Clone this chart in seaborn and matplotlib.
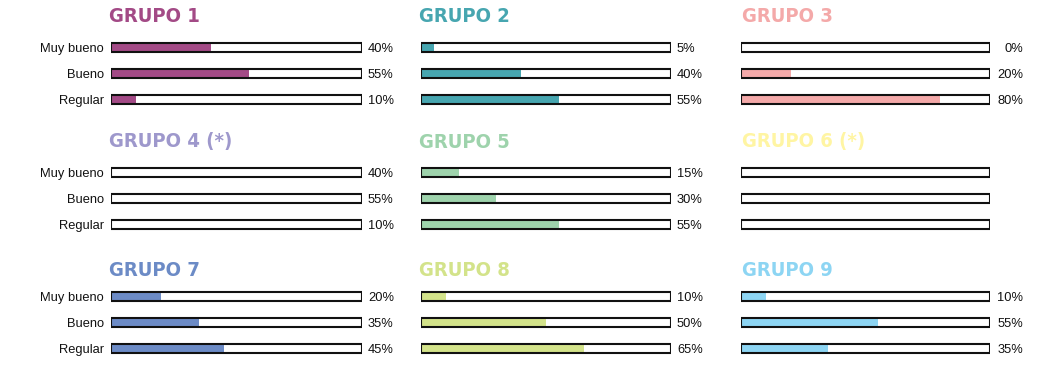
import matplotlib
matplotlib.use("Agg")
import matplotlib.pyplot as plt
import seaborn as sns
import pandas as pd

sns.set_theme(style="white")
plt.rcParams["font.family"] = ["Liberation Sans", "DejaVu Sans"]

categories = ["Muy bueno", "Bueno", "Regular"]
group_titles = ["GRUPO 1", "GRUPO 2", "GRUPO 3",
                "GRUPO 4 (*)", "GRUPO 5", "GRUPO 6 (*)",
                "GRUPO 7", "GRUPO 8", "GRUPO 9"]
group_colors = ["#A34A86", "#47A6B0", "#F4A9A9",
                "#9E98CC", "#9ED3AC", "#FFF5A3",
                "#6C8BC6", "#D3E38A", "#8DD5F3"]
grupo1 = [40, 55, 10]
grupo2 = [5, 40, 55]
grupo3 = [0, 20, 80]
grupo4 = [40, 55, 10]
grupo5 = [15, 30, 55]
grupo6 = None
grupo7 = [20, 35, 45]
grupo8 = [10, 50, 65]
grupo9 = [10, 55, 35]
group_values = [grupo1, grupo2, grupo3, grupo4, grupo5, grupo6, grupo7, grupo8, grupo9]
# starred groups: sample too small, bars are left empty
starred = [False, False, False, True, False, True, False, False, False]

W, H = 1045, 371
fig = plt.figure(figsize=(W / 100, H / 100), dpi=100)

track_x = [(111, 362), (421, 671), (741, 990)]
title_x = [109, 419, 742]
row_bar_top = [47.5, 172.5, 296.5]   # centre of first bar in each row (px)
row_title_y = [14, 140, 268]
step = 26.0
bar_h = 9.0

for i, (title, color, vals) in enumerate(zip(group_titles, group_colors, group_values)):
    r, c = divmod(i, 3)
    x0, x1 = track_x[c]
    yc0 = row_bar_top[r]
    top = yc0 - step / 2
    bottom = yc0 + 2 * step + step / 2
    ax = fig.add_axes([x0 / W, 1 - bottom / H, (x1 - x0) / W, (bottom - top) / H])
    ax.patch.set_alpha(0)

    fill_vals = [0, 0, 0] if (vals is None or starred[i]) else vals
    df = pd.DataFrame({"cat": categories, "val": fill_vals, "full": [100] * 3})

    sns.barplot(data=df, x="val", y="cat", color=color, saturation=1,
                width=bar_h / step, linewidth=0, ax=ax, zorder=2)
    n_fill = len(ax.patches)
    sns.barplot(data=df, x="full", y="cat", color="white", saturation=1,
                width=bar_h / step, edgecolor="#111111", linewidth=1.5, ax=ax)
    for p in ax.patches[n_fill:]:
        p.set_facecolor("none")
        p.set_zorder(3)

    ax.set_xlim(0, 100)
    ax.set_ylim(2.5, -0.5)
    ax.set_xlabel("")
    ax.set_ylabel("")
    ax.set_xticks([])
    for s in ax.spines.values():
        s.set_visible(False)
    if c == 0:
        ax.set_yticks(range(3))
        ax.set_yticklabels(categories, fontsize=9.3, color="#111111")
        ax.tick_params(axis="y", length=0, pad=5)
    else:
        ax.set_yticks([])

    if vals is not None:
        for k, v in enumerate(vals):
            ty = 1 - (yc0 + k * step) / H
            if c == 2:
                fig.text(1023 / W, ty, f"{v}%", ha="right", va="center_baseline",
                         fontsize=9.3, color="#111111")
            else:
                fig.text((x1 + 6) / W, ty, f"{v}%", ha="left", va="center_baseline",
                         fontsize=9.3, color="#111111")

    fig.text(title_x[c] / W, 1 - row_title_y[r] / H, title, ha="left", va="center_baseline",
             fontsize=14.5, fontweight="bold", fontstretch="condensed", color=color,
             family=["DejaVu Sans"])

fig.savefig("out.png", dpi=100, facecolor="white")
